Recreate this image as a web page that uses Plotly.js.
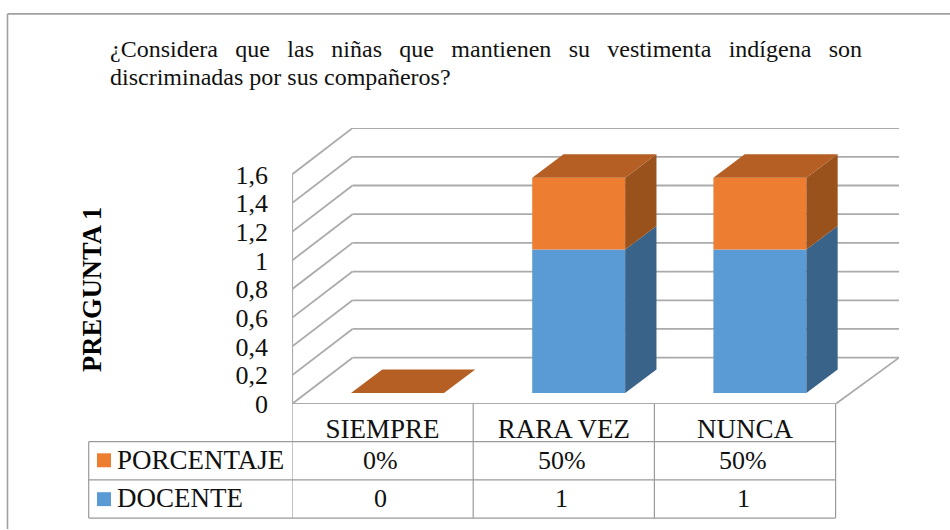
<!DOCTYPE html>
<html>
<head>
<meta charset="utf-8">
<script src="https://cdn.plot.ly/plotly-3.0.1.min.js"></script>
<style>html,body{margin:0;padding:0;background:#fff}</style>
</head>
<body>
<div id="chart" style="width:950px;height:530px"></div>
<script>
var categories = ['SIEMPRE', 'RARA VEZ', 'NUNCA'];
var docente = [0, 1, 1];
var porcentaje = [0, 0.5, 0.5];
var docenteLabels = ['0', '1', '1'];
var porcentajeLabels = ['0%', '50%', '50%'];
var tickValues = [0, 0.2, 0.4, 0.6, 0.8, 1, 1.2, 1.4, 1.6];
var tickLabels = ['0', '0,2', '0,4', '0,6', '0,8', '1', '1,2', '1,4', '1,6'];
var titleLines = ['¿Considera que las niñas que mantienen su vestimenta indígena son', 'discriminadas por sus compañeros?'];
var yTitle = 'PREGUNTA 1';

// layout geometry
var W = 950, H = 530, L = 292, R = 51, T = 127.5, B = 125.5;
var plotW = W - L - R, plotH = H - T - B;
var unitX = 181.2, unitY = 144;
var depthX = 62 / unitX, depthY = 46.5 / unitY;
var wallLeft = 60.5 / unitX, wallRight = 63.5 / unitX;
var front = 0.24, back = 0.745, barW = 0.513;
var FONT = '"Liberation Serif", "Times New Roman", serif';
var GRID = '#ABABAB', TABLE = '#9A9A9A';
var BLUE = '#5B9BD5', ORANGE = '#ED7D31', BLUE_SIDE = '#3A6389', ORANGE_SIDE = '#9A521D', ORANGE_TOP = '#B55F24';

function px(p) { return (p - L) / plotW; }
function py(p) { return (T + plotH - p) / plotH; }

var centers = categories.map(function (_, i) { return i + 0.5; });
var shiftX = front * depthX, shiftY = front * depthY;
var barX = centers.map(function (c) { return c + shiftX; });

function faces(bottom, top) {
  var xs = [], ys = [];
  centers.forEach(function (c, i) {
    var r = c + shiftX + barW / 2;
    var d = (back - front);
    xs.push(r, r + d * depthX, r + d * depthX, r, r, null);
    ys.push(bottom[i] + shiftY, bottom[i] + back * depthY, top[i] + back * depthY, top[i] + shiftY, bottom[i] + shiftY, null);
  });
  return { x: xs, y: ys };
}
var totals = docente.map(function (v, i) { return v + porcentaje[i]; });
var zeros = docente.map(function () { return 0; });
var blueSide = faces(zeros, docente);
var orangeSide = faces(docente, totals);
var topX = [], topY = [];
centers.forEach(function (c, i) {
  var l = c + shiftX - barW / 2, r = c + shiftX + barW / 2, d = (back - front) * depthX;
  topX.push(l, r, r + d, l + d, l, null);
  var f = totals[i] + shiftY, b = totals[i] + back * depthY;
  topY.push(f, f, b, b, f, null);
});

var data = [
  { type: 'bar', name: 'DOCENTE', x: barX, y: docente, base: barX.map(function () { return shiftY; }), width: barW, marker: { color: BLUE }, hoverinfo: 'skip' },
  { type: 'bar', name: 'PORCENTAJE', x: barX, y: porcentaje, base: docente.map(function (v) { return v + shiftY; }), width: barW, marker: { color: ORANGE }, hoverinfo: 'skip' },
  { type: 'scatter', mode: 'none', x: blueSide.x, y: blueSide.y, fill: 'toself', fillcolor: BLUE_SIDE, hoverinfo: 'skip' },
  { type: 'scatter', mode: 'none', x: orangeSide.x, y: orangeSide.y, fill: 'toself', fillcolor: ORANGE_SIDE, hoverinfo: 'skip' },
  { type: 'scatter', mode: 'none', x: topX, y: topY, fill: 'toself', fillcolor: ORANGE_TOP, hoverinfo: 'skip' }
];

var shapes = [];
function line(x0, y0, x1, y1, color, w, xref, yref) {
  shapes.push({ type: 'line', layer: 'below', xref: xref || 'x', yref: yref || 'y', x0: x0, y0: y0, x1: x1, y1: y1, line: { color: color, width: w } });
}
// walls and floor
var xEnd = categories.length;
tickValues.forEach(function (v) {
  line(0, v, wallLeft, v + depthY, GRID, 1.8);
  line(wallLeft, v + depthY, xEnd + wallRight, v + depthY, GRID, 1.8);
});
line(0, 0, 0, tickValues[tickValues.length - 1], GRID, 2.2);
line(0, 0, xEnd, 0, GRID, 2.2);
line(xEnd, 0, xEnd + wallRight, depthY, GRID, 1.8);

// frame of the picture
line(px(7.5), py(13), px(950), py(13), '#A0A0A0', 1.6, 'paper', 'paper');
line(px(7.5), py(13), px(7.5), py(530), '#A0A0A0', 1.6, 'paper', 'paper');

// data table
var tableTop = py(404.5), rowA = py(442.3), rowB = py(480.7), rowC = py(519);
line(px(88.7), rowA, px(835.5), rowA, TABLE, 1.2, 'paper', 'paper');
line(px(88.7), rowB, px(835.5), rowB, TABLE, 1.2, 'paper', 'paper');
line(px(88.7), rowC, px(835.5), rowC, TABLE, 1.2, 'paper', 'paper');
line(px(88.7), rowA, px(88.7), rowC, TABLE, 1.2, 'paper', 'paper');
[0, 1, 2, 3].forEach(function (i) {
  line(i, tableTop, i, rowC, TABLE, 1.2, 'x', 'paper');
});
function swatch(y0, y1, color) {
  shapes.push({ type: 'rect', xref: 'paper', yref: 'paper', x0: px(97), x1: px(111), y0: py(y0), y1: py(y1), fillcolor: color, line: { width: 0 } });
}
swatch(454, 468, ORANGE);
swatch(493, 507, BLUE);

var annotations = [];
function label(text, x, y, xref, xanchor, size, extra) {
  var a = { text: text, x: x, y: y, xref: xref, yref: 'paper', xanchor: xanchor, yanchor: 'middle', showarrow: false, align: xanchor,
    font: { family: FONT, size: size, color: '#111' }, borderpad: 0, borderwidth: 0 };
  for (var k in extra || {}) a[k] = extra[k];
  annotations.push(a);
}
label(titleLines[0], px(110), py(48.5), 'paper', 'left', 24);
label(titleLines[1], px(110), py(76.5), 'paper', 'left', 24);
label(yTitle, px(92), py(290), 'paper', 'center', 26.5, { textangle: -90, font: { family: FONT, size: 26.5, color: '#000', weight: 'bold' } });
label('PORCENTAJE', px(116.5), py(460.5), 'paper', 'left', 27);
label('DOCENTE', px(116.5), py(499), 'paper', 'left', 27);
centers.forEach(function (c, i) {
  label(porcentajeLabels[i], c - 0.01, py(461), 'x', 'center', 26);
  label(docenteLabels[i], c - 0.01, py(499.5), 'x', 'center', 26);
});

var layout = {
  width: W, height: H, margin: { l: L, r: R, t: T, b: B, pad: 0 },
  paper_bgcolor: '#fff', plot_bgcolor: 'rgba(0,0,0,0)',
  barmode: 'overlay', showlegend: false, hovermode: false,
  xaxis: { range: [0, plotW / unitX], showgrid: false, zeroline: false, showline: false, ticks: '', tickmode: 'array', tickvals: centers, ticktext: categories, ticklabelstandoff: 6, tickfont: { family: FONT, size: 27, color: '#111' } },
  yaxis: { range: [0, plotH / unitY], showgrid: false, zeroline: false, showline: false, ticks: '', tickmode: 'array', tickvals: tickValues, ticktext: tickLabels, ticklabelstandoff: 23, tickfont: { family: FONT, size: 26, color: '#111' } },
  shapes: shapes, annotations: annotations
};

Plotly.newPlot('chart', data, layout, { displayModeBar: false, staticPlot: true }).then(function () {
  // justify the first title line between the two edges of the text block
  var el = document.querySelectorAll('.annotation-text')[0];
  if (el) {
    var gaps = titleLines[0].split(' ').length - 1;
    var need = 752 - el.getComputedTextLength();
    el.style.wordSpacing = (need / gaps) + 'px';
  }
});
</script>
</body>
</html>
